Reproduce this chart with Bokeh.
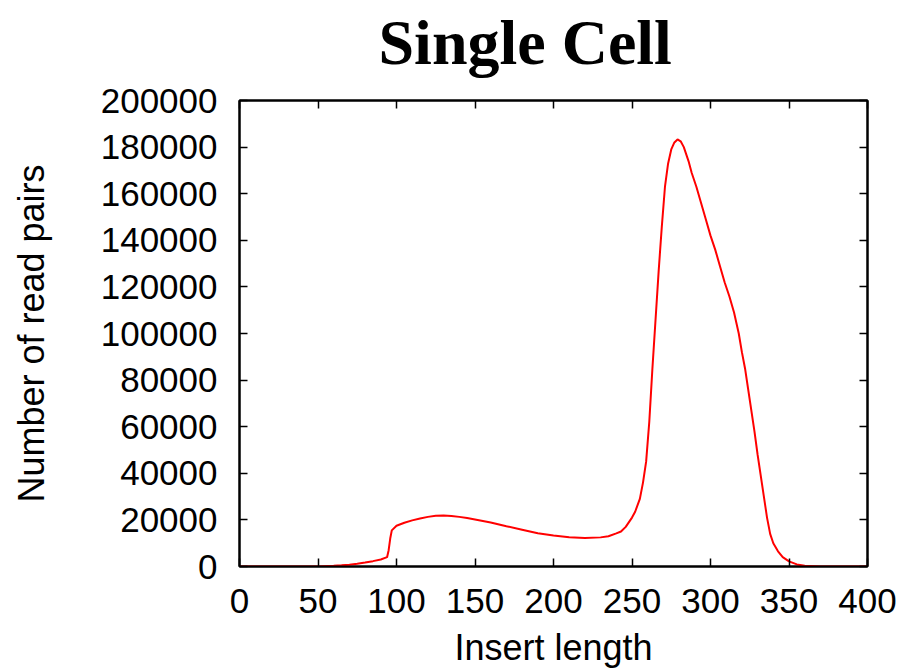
from bokeh.plotting import figure
from bokeh.models import FixedTicker, LinearAxis, Range1d, BasicTickFormatter
from bokeh.embed import file_html
from bokeh.resources import INLINE

title_text = "Single Cell"
x_label = "Insert length"
y_label = "Number of read pairs"
x_ticks = [0, 50, 100, 150, 200, 250, 300, 350, 400]
y_ticks = [0, 20000, 40000, 60000, 80000, 100000, 120000, 140000, 160000, 180000, 200000]

insert_length = [0, 10, 20, 30, 40, 50, 60, 65, 70, 75, 80, 85, 90, 94, 95, 96, 97,
                 100, 105, 110, 115, 120, 125, 130, 135, 140, 145, 150, 160, 170, 180,
                 190, 200, 210, 220, 230, 235, 240, 243, 246, 250, 252, 255, 257, 259,
                 261, 263, 265, 267, 269, 271, 273, 275, 277, 279, 281, 283, 286, 288,
                 291, 294, 297, 300, 303, 306, 309, 312, 315, 318, 320, 322, 324, 326,
                 328, 330, 332, 334, 336, 338, 340, 343, 346, 350, 355, 360, 370, 380, 400]
read_pairs = [0, 0, 0, 0, 0, 50, 300, 500, 800, 1200, 1700, 2300, 3000, 4000, 7000, 12000, 15500,
              17500, 18800, 19800, 20600, 21300, 21800, 21900, 21700, 21300, 20800, 20200, 18900, 17300, 15800,
              14300, 13300, 12600, 12200, 12500, 13000, 14200, 15000, 17000, 21000, 23500, 29000, 36000, 45000,
              62000, 85000, 106000, 127000, 146000, 163000, 173000, 179000, 182000, 183300, 182500, 180000, 174000, 169000,
              163000, 156000, 149000, 142000, 136000, 129000, 122000, 116000, 109000, 100000, 92000, 85000, 76000, 67000,
              58000, 48000, 39000, 30000, 21000, 14000, 10000, 6500, 4000, 2200, 900, 300, 50, 0, 0]

p = figure(width=900, height=689, output_backend="svg", toolbar_location=None,
           x_range=Range1d(0, 400), y_range=Range1d(0, 200000),
           min_border_left=239, min_border_right=33, min_border_top=119, min_border_bottom=104,
           title=title_text)
p.styles = {"margin-top": "-19px"}
p.background_fill_color = "white"
p.border_fill_color = "white"
p.grid.visible = False
p.outline_line_color = "black"
p.outline_line_width = 2

p.title.text_font = "Liberation Serif"
p.title.text_font_style = "bold"
p.title.text_font_size = "64px"
p.title.align = "left"
p.title.offset = 139
p.title.standoff = 46
p.title.text_color = "black"

p.line(insert_length, read_pairs, line_color="#ff0000", line_width=2)

xax = p.below[0]
yax = p.left[0]
xax.ticker = FixedTicker(ticks=x_ticks)
xax.axis_label = x_label
yax.ticker = FixedTicker(ticks=y_ticks)
yax.formatter = BasicTickFormatter(use_scientific=False)
yax.axis_label = y_label

top = LinearAxis(ticker=FixedTicker(ticks=x_ticks),
                 major_label_overrides={t: "" for t in x_ticks})
right = LinearAxis(ticker=FixedTicker(ticks=y_ticks),
                   major_label_overrides={t: "" for t in y_ticks})
p.add_layout(top, "above")
p.add_layout(right, "right")

for ax in [xax, yax, top, right]:
    ax.major_tick_in = 8
    ax.major_tick_out = 0
    ax.minor_tick_in = 0
    ax.minor_tick_out = 0
    ax.major_tick_line_color = "black"
    ax.major_tick_line_width = 1.5
    ax.axis_line_color = "black"
    ax.axis_line_width = 2
    ax.major_label_text_font = "Liberation Sans"
    ax.major_label_text_color = "black"
    ax.axis_label_text_font = "Liberation Sans"
    ax.axis_label_text_font_style = "normal"
    ax.axis_label_text_font_size = "36px"
    ax.axis_label_text_color = "black"

for ax in [xax, yax]:
    ax.major_label_text_font_size = "35px"
top.major_label_standoff = 0
right.major_label_standoff = 0
xax.major_label_standoff = 22
yax.major_label_standoff = 22
xax.axis_label_standoff = 11
yax.axis_label_standoff = 46

open("out.html", "w").write(file_html(p, INLINE))
